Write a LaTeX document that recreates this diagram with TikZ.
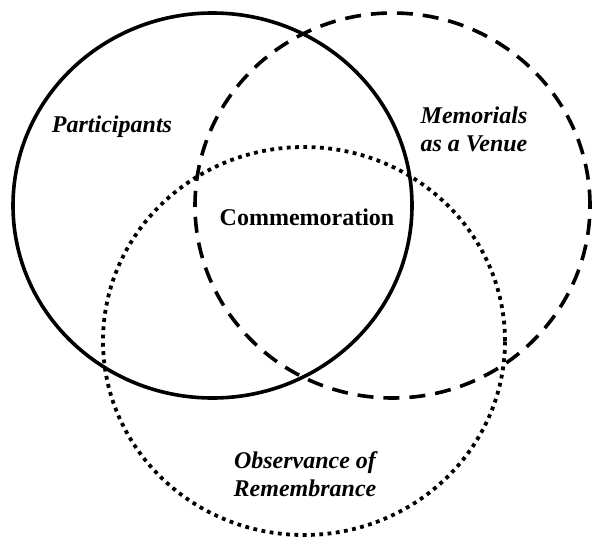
\documentclass[tikz,border=0pt]{standalone}
\usepackage{fontspec}
\setmainfont{Liberation Serif}
\begin{document}
\begin{tikzpicture}[x=1pt,y=-1pt,
  setline/.style={line width=3.6pt},
  setdash/.style={line width=3.6pt, dash pattern=on 16pt off 10pt},
  setdot/.style={line width=3.8pt, dash pattern=on 3.8pt off 4.5pt},
  lbl/.style={font=\fontsize{24}{28}\selectfont\bfseries\itshape, align=center, inner sep=0pt},
  clbl/.style={font=\fontsize{24}{28}\selectfont\bfseries, align=center, inner sep=0pt}]
\useasboundingbox (0,0) rectangle (594,541);
\coordinate (cP) at (212.5,205.5);
\coordinate (cM) at (392.5,205.5);
\coordinate (cO) at (304,341);
\draw[setline] (cP) ellipse [x radius=199.5pt, y radius=192.5pt];
\draw[setdash] (cM) ellipse [x radius=197.5pt, y radius=192.5pt];
\draw[setdot] (cO) ellipse [x radius=201pt, y radius=194pt];
\node[lbl] (p) at (112,127) {Participants};
\node[lbl] (m) at (474,129) {Memorials\\as a Venue};
\node[clbl] (c) at (307,217) {Commemoration};
\node[lbl] (o) at (305,474) {Observance of\\Remembrance};
\end{tikzpicture}
\end{document}
